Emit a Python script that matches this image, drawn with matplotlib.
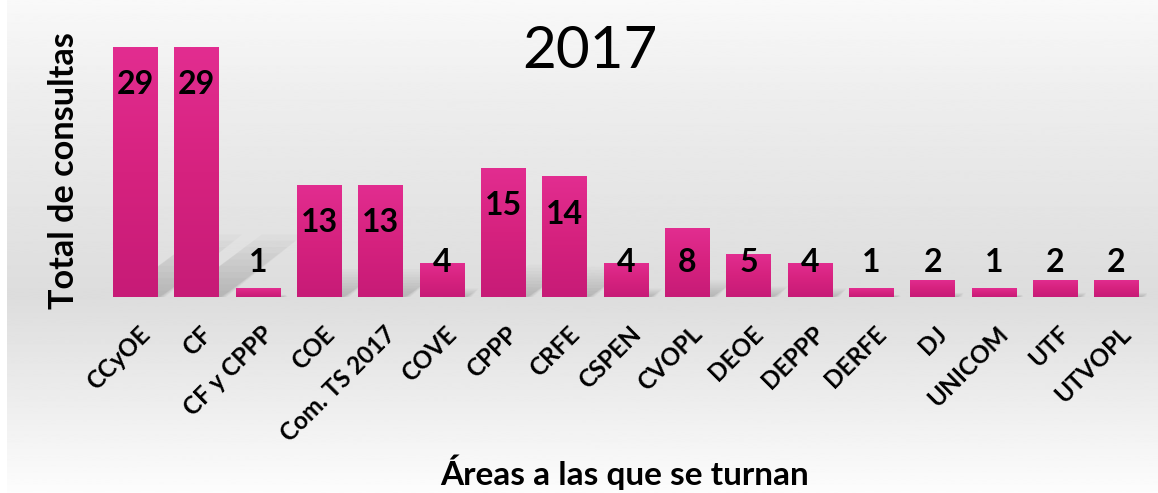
import numpy as np
import matplotlib.pyplot as plt
import matplotlib.transforms as mtransforms
from matplotlib.colors import LinearSegmentedColormap
from matplotlib.patches import Polygon

areas = ['CCyOE', 'CF', 'CF y CPPP', 'COE', 'Com. TS 2017', 'COVE', 'CPPP', 'CRFE',
         'CSPEN', 'CVOPL', 'DEOE', 'DEPPP', 'DERFE', 'DJ', 'UNICOM', 'UTF', 'UTVOPL']
consultas = [29, 29, 1, 13, 13, 4, 15, 14, 4, 8, 5, 4, 1, 2, 1, 2, 2]

titulo = '2017'
eje_y = 'Total de consultas'
eje_x = 'Áreas a las que se turnan'

plt.rcParams['font.family'] = ['Lato', 'DejaVu Sans']

W, H = 1158, 493
fig = plt.figure(figsize=(W / 100, H / 100), dpi=100)

# fondo con degradado gris
bg = fig.add_axes([7 / W, 0, 1 - 7 / W, 1], zorder=0)
yy = np.linspace(0, 1, 500)
grad = np.interp(yy, [0, 0.2, 0.6, 0.8, 1.0], [0.975, 0.93, 0.865, 0.925, 0.99])
bg.imshow(grad[:, None], aspect='auto', cmap='gray', vmin=0, vmax=1,
          extent=[0, 1, 0, 1], interpolation='bilinear')
bg.set_xlim(0, 1)
bg.set_ylim(0, 1)
bg.axis('off')

# area de grafico
px_unit = 8.62
ax = fig.add_axes([104.8 / W, (H - 297) / H, 1042.4 / W, 30 * px_unit / H], zorder=1)
ax.patch.set_alpha(0)

x = np.arange(len(areas))
ancho = 0.73
rosa = LinearSegmentedColormap.from_list('rosa', ['#c71b77', '#d6227f', '#e22d90'])

# sombras difusas detras de las barras
for i, v in enumerate(consultas):
    sh = min(0.25 * v, 7.5)
    dx = 1.3 * sh * px_unit / 61.3
    x0, x1 = i - ancho / 2, i + ancho / 2
    for k in range(10):
        s = (k + 1) / 10
        poly = Polygon([(x0 + 0.05, 0), (x1 + 0.12 * s, 0),
                        (x1 + dx * s + 0.05, sh * s), (x0 + dx * s + 0.1, sh * s)],
                       closed=True, facecolor='#606060', edgecolor='none',
                       alpha=0.03, zorder=1)
        ax.add_patch(poly)

bars = ax.bar(x, consultas, width=ancho, color='none', edgecolor='none', zorder=2)
g = np.linspace(0, 1, 100)[:, None]
for b in bars:
    x0, w, h = b.get_x(), b.get_width(), b.get_height()
    im = ax.imshow(g, extent=[x0, x0 + w, 0, h], origin='lower', aspect='auto',
                   cmap=rosa, zorder=2)
    im.set_clip_path(b)

for i, v in enumerate(consultas):
    ax.text(i, max(v - 4.4, 3.95), str(v), ha='center', va='center',
            fontsize=23, fontweight='bold', color='black', zorder=3)

ax.set_xlim(-0.5, len(areas) - 0.5)
ax.set_ylim(0, 30)
ax.set_yticks([])
for s in ax.spines.values():
    s.set_visible(False)

ax.set_xticks(x, areas, rotation=45, ha='right', rotation_mode='anchor',
              fontsize=17.5, fontweight='bold')
ax.tick_params(axis='x', length=0, pad=24)
off = mtransforms.ScaledTranslation(0.11, 0, fig.dpi_scale_trans)
for lab in ax.get_xticklabels():
    lab.set_verticalalignment('center')
    lab.set_transform(lab.get_transform() + off)

fig.text(590 / W, 1 - 51 / H, titulo, ha='center', va='center', fontsize=42)
fig.text(64.5 / W, 1 - 171 / H, eje_y, ha='center', va='center', rotation=90,
         fontsize=24.7, fontweight='bold')
fig.text(625 / W, 1 - 472 / H, eje_x, ha='center', va='center',
         fontsize=24, fontweight='bold')

fig.savefig('out.png', dpi=100)
